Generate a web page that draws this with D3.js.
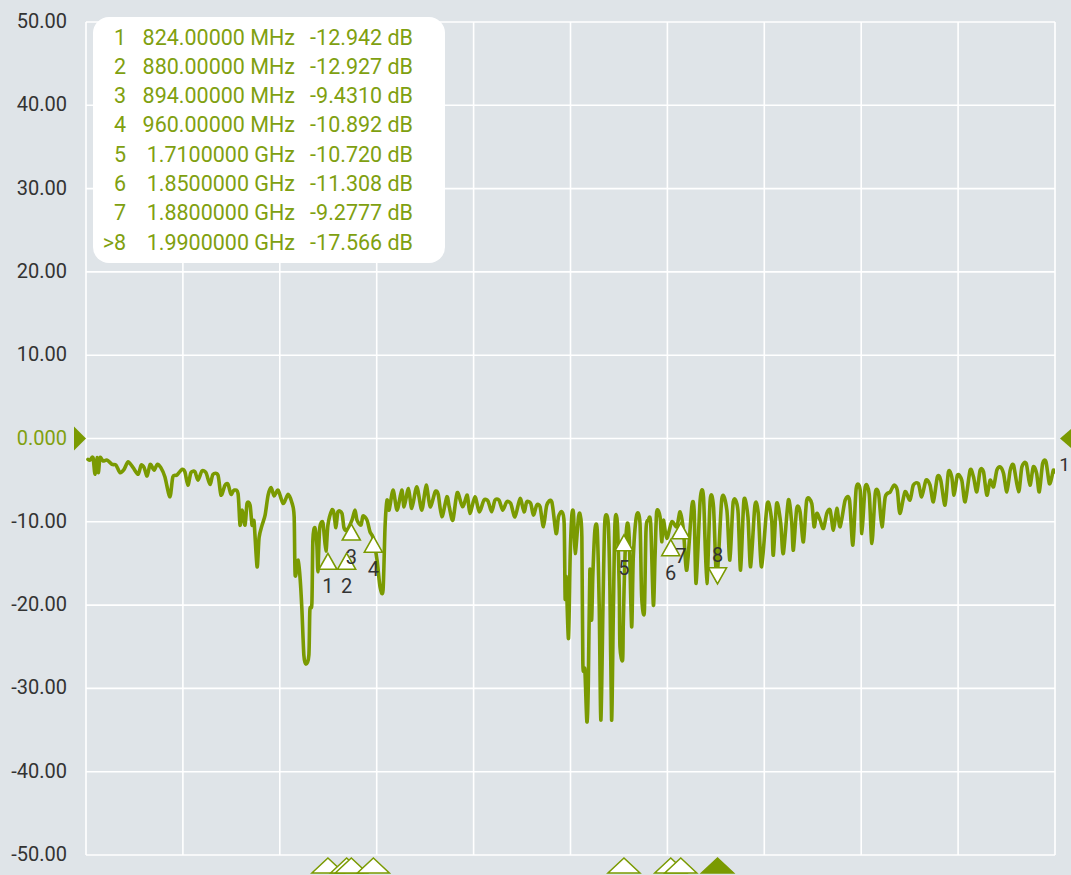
<!DOCTYPE html>
<html><head><meta charset="utf-8">
<script src="https://cdn.jsdelivr.net/npm/d3@7"></script>
<style>html,body{margin:0;padding:0;background:#dfe4e8;}svg{display:block;}</style>
</head><body>
<svg id="c" width="1071" height="875"></svg>
<script>
// ---- data ----
const freqMHz = [106,112,121,127,133,137,142,151,163,178,190,202,214,226,241,256,265,274,283,292,304,313,324,336,351,360,372,387,396,405,414,426,435,447,459,471,480,495,504,516,525,534,543,555,561,567,576,582,591,597,603,612,618,627,636,645,654,663,675,690,705,717,723,726,735,741,746,752,758,767,770,776,779,785,791,794,797,800,809,818,824,836,842,848,854,866,872,881,896,905,911,923,929,941,950,959,971,980,989,995,1001,1007,1019,1031,1045,1052,1065,1075,1090,1105,1118,1130,1145,1154,1165,1180,1187,1198,1211,1227,1241,1249,1264,1277,1291,1303,1314,1324,1336,1347,1359,1371,1384,1399,1411,1419,1431,1439,1449,1459,1469,1479,1494,1507,1514,1524,1531,1534,1537,1544,1549,1554,1559,1564,1574,1579,1584,1587,1593,1599,1603,1608,1613,1617,1623,1630,1636,1641,1648,1653,1663,1668,1673,1678,1683,1690,1696,1698,1706,1708,1713,1720,1726,1733,1738,1748,1758,1763,1771,1776,1783,1790,1798,1803,1808,1818,1823,1828,1838,1853,1868,1878,1888,1898,1913,1920,1926,1938,1948,1958,1968,1978,1988,2003,2018,2027,2037,2051,2059,2069,2081,2089,2102,2112,2122,2139,2152,2157,2167,2179,2187,2202,2212,2217,2227,2237,2247,2257,2272,2279,2287,2297,2307,2317,2327,2337,2347,2357,2372,2385,2395,2405,2417,2422,2432,2444,2452,2462,2472,2482,2492,2507,2518,2528,2536,2551,2566,2576,2591,2601,2614,2626,2636,2648,2658,2671,2681,2691,2698,2708,2721,2731,2746,2756,2766,2776,2786,2796,2806,2816,2826,2836,2846,2856,2866,2876,2891,2901,2914,2925,2935,2945,2953,2963,2973,2983,2990,2995,3000];
const s11dB = [-2.5,-2.6,-2.3,-4.3,-2.3,-4.1,-2.3,-2.7,-2.6,-3.1,-3.2,-4.1,-3.7,-2.8,-3.5,-4.3,-3.2,-3.5,-4.5,-3.1,-3.8,-3.1,-3.5,-4.6,-7.0,-4.6,-4.4,-3.7,-4.0,-5.6,-4.1,-4.0,-5.0,-3.9,-4.1,-5.5,-4.3,-4.4,-6.8,-5.6,-5.5,-6.7,-6.2,-6.6,-10.4,-8.6,-10.4,-7.8,-8.0,-10.4,-10.0,-15.4,-11.9,-10.4,-9.2,-6.8,-5.9,-6.9,-6.2,-7.8,-6.7,-7.8,-9.4,-16.4,-14.6,-16.9,-20.4,-26.0,-27.1,-26.0,-20.6,-19.8,-12.2,-10.7,-12.8,-16.0,-12.8,-10.6,-10.1,-13.5,-10.4,-8.6,-9.0,-10.7,-8.8,-9.0,-10.7,-11.0,-9.8,-8.6,-9.8,-10.4,-9.3,-9.8,-11.2,-11.9,-14.6,-17.8,-18.2,-10.6,-7.4,-8.6,-6.2,-8.6,-6.2,-8.2,-6.0,-8.4,-5.8,-8.6,-5.6,-8.2,-6.4,-6.7,-9.4,-7.0,-8.2,-9.8,-6.5,-8.2,-6.8,-9.0,-7.0,-8.8,-7.4,-7.5,-8.8,-7.4,-7.4,-8.6,-7.6,-7.8,-9.4,-7.2,-8.8,-7.6,-7.8,-9.2,-8.0,-8.2,-10.6,-8.0,-7.6,-11.4,-9.4,-8.8,-10.2,-19.2,-16.6,-24.0,-14.2,-9.2,-9.0,-13.8,-9.4,-9.2,-11.8,-27.0,-27.8,-34.0,-30.2,-15.8,-21.8,-16.2,-11.0,-11.0,-20.2,-33.8,-18.2,-9.8,-10.2,-18.2,-33.8,-21.4,-10.2,-10.0,-18.2,-25.0,-26.6,-22.2,-14.2,-10.2,-12.2,-22.6,-14.2,-9.2,-10.2,-19.0,-20.8,-11.0,-9.8,-10.2,-20.0,-14.2,-8.8,-9.4,-12.4,-9.8,-12.0,-10.0,-10.6,-8.8,-11.0,-15.8,-8.2,-8.6,-17.4,-7.4,-7.0,-17.4,-7.4,-8.2,-17.0,-7.2,-8.6,-14.6,-7.6,-8.6,-15.8,-7.4,-9.4,-15.4,-8.0,-9.0,-15.4,-7.8,-9.8,-14.0,-7.8,-10.1,-13.8,-7.4,-10.1,-13.4,-8.4,-8.8,-12.4,-7.4,-7.8,-10.6,-9.0,-9.8,-10.8,-9.0,-8.6,-11.0,-8.4,-10.6,-7.4,-7.4,-12.8,-6.0,-6.2,-11.4,-5.8,-6.7,-12.6,-6.6,-6.6,-10.6,-7.0,-6.4,-5.6,-6.2,-9.0,-6.4,-7.4,-5.6,-5.4,-7.0,-5.0,-5.6,-7.6,-4.6,-5.0,-8.0,-4.0,-4.6,-6.8,-4.4,-5.0,-7.6,-3.8,-4.6,-6.4,-3.8,-4.0,-6.8,-5.0,-5.8,-3.8,-3.4,-4.2,-6.4,-3.8,-3.2,-6.4,-3.4,-3.0,-5.6,-3.4,-4.2,-6.4,-3.0,-2.8,-5.4,-4.7,-3.8,-4.0];

const yTicks = [50,40,30,20,10,0,-10,-20,-30,-40,-50];
const yTickLabels = ["50.00","40.00","30.00","20.00","10.00","0.000","-10.00","-20.00","-30.00","-40.00","-50.00"];
const xGrid = [100,390,680,970,1260,1550,1840,2130,2420,2710,3000];

const markerIds = ["1","2","3","4","5","6","7","8"];
const markerFreq = [824,880,894,960,1710,1850,1880,1990];
const markerFreqText = ["824.00000 MHz","880.00000 MHz","894.00000 MHz","960.00000 MHz","1.7100000 GHz","1.8500000 GHz","1.8800000 GHz","1.9900000 GHz"];
const markerDb = [-12.942,-12.927,-9.4310,-10.892,-10.720,-11.308,-9.2777,-17.566];
const markerDbText = ["-12.942 dB","-12.927 dB","-9.4310 dB","-10.892 dB","-10.720 dB","-11.308 dB","-9.2777 dB","-17.566 dB"];
const activeMarker = 7;

// ---- drawing ----
const GREEN = "#7a9a01", TEXTG = "#80a010", GRID = "#ffffff", DARK = "#333333";
const svg = d3.select("#c");
const L = 86, R = 1055, T = 22, B = 855;
const x = d3.scaleLinear().domain([100,3000]).range([L,R]);
const y = d3.scaleLinear().domain([-50,50]).range([B,T]);

svg.append("rect").attr("width",1071).attr("height",875).attr("fill","#dfe4e8");

const g = svg.append("g");
g.selectAll("line.h").data(yTicks).join("line")
  .attr("x1",L).attr("x2",R).attr("y1",d=>y(d)).attr("y2",d=>y(d))
  .attr("stroke",GRID).attr("stroke-width",1.6);
g.selectAll("line.v").data(xGrid).join("line")
  .attr("x1",d=>x(d)).attr("x2",d=>x(d)).attr("y1",T).attr("y2",B)
  .attr("stroke",GRID).attr("stroke-width",1.6);

svg.selectAll("text.yl").data(yTicks).join("text")
  .attr("x",67).attr("y",d=>y(d)).attr("dy","0.3em")
  .attr("text-anchor","end").attr("font-family","Roboto, sans-serif").attr("font-size",20)
  .attr("fill",(d)=>d===0?TEXTG:DARK)
  .text((d,i)=>yTickLabels[i]);

// reference level arrows
svg.append("path").attr("d",`M${L-12},${y(0)-12}L${L},${y(0)}L${L-12},${y(0)+12}Z`).attr("fill",GREEN);
svg.append("path").attr("d",`M${1060},${y(0)}L${1074},${y(0)-12}L${1074},${y(0)+12}Z`).attr("fill",GREEN);
svg.append("text").attr("x",1070).attr("y",y(0)+26).attr("dy","0.33em").attr("text-anchor","end")
  .attr("font-family","Roboto, sans-serif").attr("font-size",19).attr("fill",DARK).text("1");

// trace
svg.append("clipPath").attr("id","clip").append("rect").attr("x",L).attr("y",T).attr("width",R-L).attr("height",B-T);
const pts = freqMHz.map((f,i)=>[f,s11dB[i]]);
const line = d3.line().x(d=>x(d[0])).y(d=>y(d[1])).curve(d3.curveCardinal.tension(0.2));
svg.append("path").attr("d",line(pts)).attr("fill","none").attr("stroke",GREEN)
  .attr("stroke-width",3.6).attr("stroke-linejoin","round").attr("stroke-linecap","round").attr("clip-path","url(#clip)");

// markers on trace
const mk = svg.append("g");
markerFreq.forEach((f,i)=>{
  const mx = x(f), my = y(markerDb[i]);
  if (i===activeMarker){
    const tb = my-1;
    mk.append("path").attr("d",`M${mx},${tb}L${mx-9},${tb-16}L${mx+9},${tb-16}Z`)
      .attr("fill","#fff").attr("stroke",GREEN).attr("stroke-width",1.6);
    mk.append("text").attr("x",mx).attr("y",tb-29).attr("dy","0.35em").attr("text-anchor","middle")
      .attr("font-family","Roboto, sans-serif").attr("font-size",20).attr("fill",DARK).text(markerIds[i]);
  } else {
    const ta = my+7;
    mk.append("path").attr("d",`M${mx},${ta}L${mx-9},${ta+16}L${mx+9},${ta+16}Z`)
      .attr("fill","#fff").attr("stroke",GREEN).attr("stroke-width",1.6);
    mk.append("text").attr("x",mx).attr("y",ta+33).attr("dy","0.35em").attr("text-anchor","middle")
      .attr("font-family","Roboto, sans-serif").attr("font-size",20).attr("fill",DARK).text(markerIds[i]);
  }
});

// bottom marker indicators
markerFreq.forEach((f,i)=>{
  const mx = x(f);
  svg.append("path").attr("d",`M${mx},858L${mx-16},873L${mx+16},873Z`)
    .attr("fill",i===activeMarker?GREEN:"#fff").attr("stroke",GREEN).attr("stroke-width",1.5);
});

// legend
const lg = svg.append("g");
lg.append("rect").attr("x",93).attr("y",17).attr("width",352).attr("height",246).attr("rx",16).attr("fill","#fff");
markerIds.forEach((id,i)=>{
  const ty = 37 + i*29.3;
  const t = (xx,anchor,s)=>lg.append("text").attr("x",xx).attr("y",ty).attr("dy","0.35em")
    .attr("text-anchor",anchor).attr("font-family","Roboto, sans-serif").attr("font-size",21.5)
    .attr("fill",TEXTG).text(s);
  t(126,"end",(i===activeMarker?">":"")+id);
  t(295,"end",markerFreqText[i]);
  t(413,"end",markerDbText[i]);
});
</script>
</body></html>
